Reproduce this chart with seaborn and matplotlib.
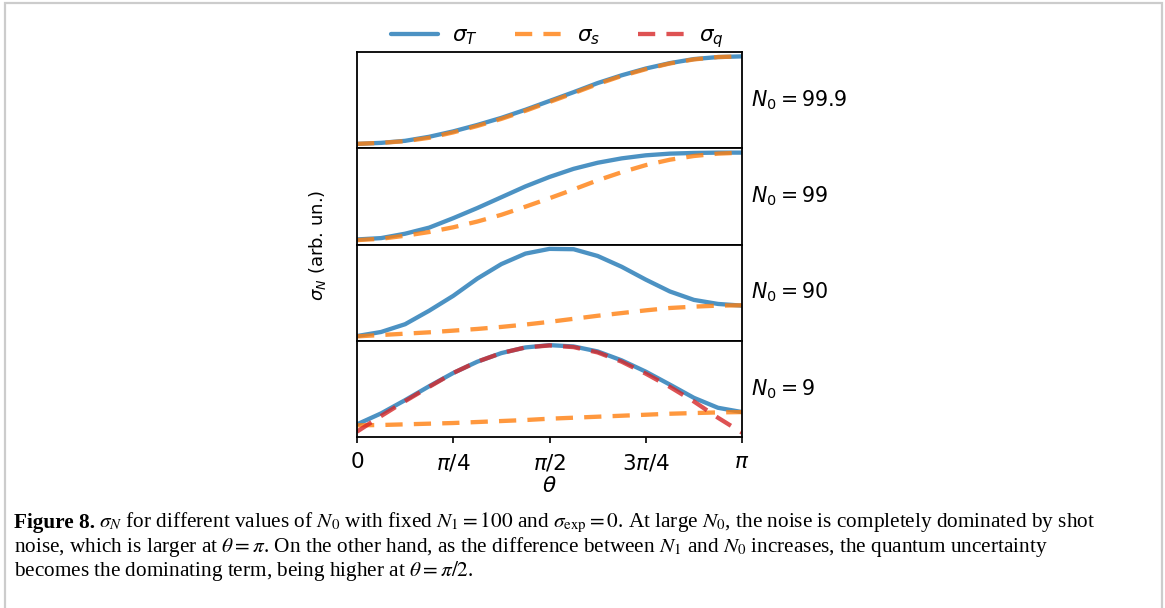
import numpy as np
import pandas as pd
import matplotlib
matplotlib.use("Agg")
import matplotlib.pyplot as plt
import seaborn as sns
from matplotlib.patches import Rectangle
from matplotlib.lines import Line2D

# ---------------- data (arbitrary units) ----------------
theta = np.linspace(0, np.pi, 17)

panel_labels = [r"$N_0 = 99.9$", r"$N_0 = 99$", r"$N_0 = 90$", r"$N_0 = 9$"]

sigma_T = [
    [0.07, 0.10, 0.16, 0.28, 0.44, 0.63, 0.84, 1.08, 1.34, 1.60, 1.87, 2.10, 2.30, 2.46, 2.58, 2.64, 2.66],
    [0.15, 0.19, 0.32, 0.50, 0.78, 1.08, 1.40, 1.72, 2.00, 2.24, 2.42, 2.55, 2.64, 2.69, 2.71, 2.72, 2.72],
    [0.13, 0.25, 0.48, 0.88, 1.32, 1.83, 2.26, 2.57, 2.71, 2.70, 2.50, 2.18, 1.80, 1.45, 1.20, 1.08, 1.03],
    [0.35, 0.68, 1.08, 1.50, 1.90, 2.24, 2.50, 2.67, 2.74, 2.70, 2.55, 2.28, 1.94, 1.55, 1.15, 0.85, 0.72],
]
sigma_s = [
    [0.07, 0.10, 0.15, 0.25, 0.41, 0.60, 0.81, 1.05, 1.31, 1.57, 1.84, 2.08, 2.28, 2.45, 2.57, 2.64, 2.66],
    [0.13, 0.17, 0.26, 0.37, 0.51, 0.68, 0.88, 1.12, 1.37, 1.63, 1.90, 2.14, 2.35, 2.51, 2.62, 2.69, 2.72],
    [0.12, 0.16, 0.20, 0.24, 0.29, 0.34, 0.40, 0.47, 0.55, 0.64, 0.73, 0.81, 0.89, 0.96, 1.00, 1.03, 1.04],
    [0.32, 0.33, 0.35, 0.37, 0.39, 0.42, 0.45, 0.48, 0.52, 0.55, 0.58, 0.61, 0.64, 0.67, 0.69, 0.71, 0.72],
]
# sigma_q only visible in the last panel
sigma_q_last = [0.13, 0.60, 1.05, 1.48, 1.90, 2.24, 2.50, 2.67, 2.73, 2.68, 2.52, 2.24, 1.88, 1.48, 1.04, 0.55, 0.10]

xtick_vals = [0, np.pi / 4, np.pi / 2, 3 * np.pi / 4, np.pi]
xtick_labels = ["0", r"$\pi/4$", r"$\pi/2$", r"$3\pi/4$", r"$\pi$"]

legend_labels = [r"$\sigma_T$", r"$\sigma_s$", r"$\sigma_q$"]

# ---------------- style ----------------
sns.set_style("ticks")
plt.rcParams["font.family"] = ["DejaVu Sans"]
plt.rcParams["axes.linewidth"] = 1.3
plt.rcParams["axes.edgecolor"] = "black"
plt.rcParams["text.color"] = "black"
plt.rcParams["axes.labelcolor"] = "black"
plt.rcParams["xtick.color"] = "black"
plt.rcParams["ytick.color"] = "black"

W, H = 1165, 608
fig = plt.figure(figsize=(W / 100, H / 100), dpi=100)
fig.patch.set_facecolor("white")

left = 357 / W
right = 742 / W
top = 1 - 52 / H
bottom = 1 - 437 / H
gs = fig.add_gridspec(4, 1, left=left, right=right, top=top, bottom=bottom, hspace=0)

c_T = "#1f77b4"
c_s = "#ff7f0e"
c_q = "#d62728"
LW = 3.1
DASH = (4.0, 2.6)
BIG = 15.5

axes = []
for i in range(4):
    ax = fig.add_subplot(gs[i, 0])
    axes.append(ax)
    df = pd.DataFrame({"theta": theta, "T": sigma_T[i], "s": sigma_s[i]})
    sns.lineplot(data=df, x="theta", y="T", ax=ax, color=c_T, lw=LW, alpha=0.8, legend=False)
    sns.lineplot(data=df, x="theta", y="s", ax=ax, color=c_s, lw=LW, alpha=0.8, legend=False)
    ax.lines[-1].set_dashes(DASH)
    if i == 3:
        dq = pd.DataFrame({"theta": theta, "q": sigma_q_last})
        sns.lineplot(data=dq, x="theta", y="q", ax=ax, color=c_q, lw=LW, alpha=0.8, legend=False)
        ax.lines[-1].set_dashes(DASH)
    for ln in ax.lines:
        ln.set_solid_joinstyle("round")
        ln.set_dash_joinstyle("round")
    ax.set_xlim(0, np.pi)
    ax.set_yticks([])
    ax.set_ylabel("")
    ax.set_xlabel("")
    for sp in ax.spines.values():
        sp.set_visible(True)
        sp.set_linewidth(1.3)
    ax.text(1.024, 0.5, panel_labels[i], transform=ax.transAxes, ha="left", va="center",
            fontsize=14.8)
    if i < 3:
        ax.set_xticks([])
    else:
        ax.set_xticks(xtick_vals)
        ax.set_xticklabels(xtick_labels, fontsize=BIG)
        ax.tick_params(axis="x", length=4, width=1.2, pad=7)
        ax.set_xlabel(r"$\theta$", fontsize=BIG, labelpad=2)

handles = [
    Line2D([], [], color=c_T, lw=LW, alpha=0.8),
    Line2D([], [], color=c_s, lw=LW, alpha=0.8, dashes=DASH),
    Line2D([], [], color=c_q, lw=LW, alpha=0.8, dashes=DASH),
]
fig.legend(handles, legend_labels, loc="center", bbox_to_anchor=(557 / W, 1 - 38 / H),
           ncol=3, frameon=False, fontsize=BIG, handlelength=2.2, columnspacing=1.75,
           handletextpad=0.65)

fig.text(318 / W, 1 - 245 / H, r"$\sigma_N$ (arb. un.)", rotation=90, ha="center",
         va="center", fontsize=13)

# caption
cap_font = "Liberation Serif"
cap_size = 15.3
x0 = 14 / W
ys = [1 - 523 / H, 1 - 547 / H, 1 - 571 / H]
t_bold = fig.text(x0, ys[0], "Figure 8.", fontfamily=cap_font, fontweight="bold",
                  fontsize=cap_size, va="center", ha="left", math_fontfamily="stix")
fig.canvas.draw()
bb = t_bold.get_window_extent()
x1 = (bb.x1 + 4) / W
fig.text(x1, ys[0],
         r"$\sigma_N$ for different values of $N_0$ with fixed $N_1 = 100$ and "
         r"$\sigma_{\mathrm{exp}} = 0$. At large $N_0$, the noise is completely dominated by shot",
         fontfamily=cap_font, fontsize=cap_size, va="center", ha="left", math_fontfamily="stix")
fig.text(x0, ys[1],
         r"noise, which is larger at $\theta = \pi$. On the other hand, as the difference between "
         r"$N_1$ and $N_0$ increases, the quantum uncertainty",
         fontfamily=cap_font, fontsize=cap_size, va="center", ha="left", math_fontfamily="stix")
fig.text(x0, ys[2],
         r"becomes the dominating term, being higher at $\theta = \pi/2$.",
         fontfamily=cap_font, fontsize=cap_size, va="center", ha="left", math_fontfamily="stix")

# light grey frame around the figure
fig.patches.append(Rectangle((5 / W, -0.05), (1161.5 - 5) / W, 1 - 3 / H + 0.05,
                             transform=fig.transFigure, fill=False, edgecolor="#cccccc",
                             lw=1.6, zorder=0))

fig.savefig("out.png", dpi=100, facecolor="white")
